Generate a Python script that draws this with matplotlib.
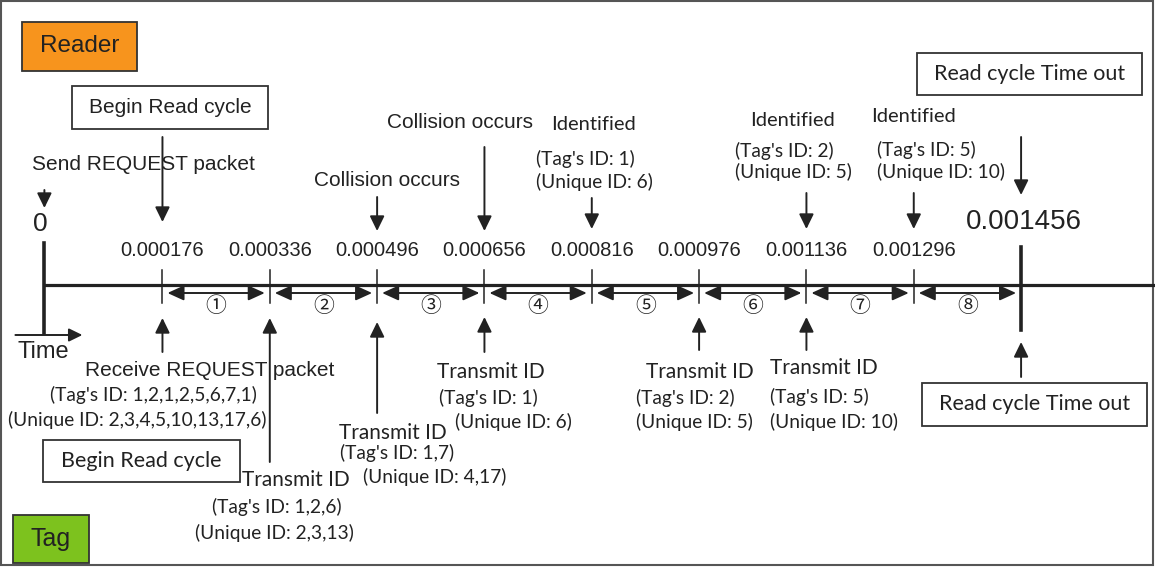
import matplotlib
matplotlib.use('Agg')
import matplotlib.pyplot as plt
from matplotlib.patches import Rectangle

# slot boundaries of one read cycle (seconds)
times = [0, 0.000176, 0.000336, 0.000496, 0.000656, 0.000816,
         0.000976, 0.001136, 0.001296, 0.001456]
time_labels = ['0', '0.000176', '0.000336', '0.000496', '0.000656',
               '0.000816', '0.000976', '0.001136', '0.001296', '0.001456']
slot_labels = ['①', '②', '③', '④', '⑤', '⑥', '⑦', '⑧']

# reader side events (index into times)
collision_idx = [3, 4]
ident_idx = [5, 7, 8]
ident_tags = ['1', '2', '5']
ident_unique = ['6', '5', '10']

# tag side events
request_tags = '1,2,1,2,5,6,7,1'
request_unique = '2,3,4,5,10,13,17,6'
transmit_idx = [2, 3, 4, 6, 7]
transmit_tags = ['1,2,6', '1,7', '1', '2', '5']
transmit_unique = ['2,3,13', '4,17', '6', '5', '10']

ARIAL = 'Liberation Sans'
CALIBRI = 'Lato'
INK = '#222222'

# pixel layout: time axis is linear, y axis is in pixels (top = 0)
W, H = 1155, 567
X0 = 44.4             # pixel of t = 0
PX_PER_S = 0.6708e6   # pixels per second


def tx(px):
    return (px - X0) / PX_PER_S


def at(t, dx=0):
    return t + dx / PX_PER_S


fig = plt.figure(figsize=(W / 100, H / 100), dpi=100)
ax = fig.add_axes([0, 0, 1, 1])
ax.set_xlim(tx(0), tx(W))
ax.set_ylim(H, 0)
ax.axis('off')


def label(x, y, s, size=15, font=ARIAL, ha='center'):
    ax.text(x, y, s, fontsize=size, family=font, ha=ha, va='center', color=INK)


def arrow(t, y_from, y_to):
    ax.annotate('', xy=(t, y_to), xytext=(t, y_from),
                arrowprops=dict(arrowstyle='-|>,head_length=0.45,head_width=0.22',
                                color=INK, lw=1.4, mutation_scale=20,
                                shrinkA=0, shrinkB=0))


def box(xc, yc, w, h, s, size=15, font=ARIAL, face='white'):
    ax.add_patch(Rectangle((xc - w / 2 / PX_PER_S, yc - h / 2), w / PX_PER_S, h,
                           facecolor=face, edgecolor='#333333', lw=1.3))
    label(xc, yc, s, size=size, font=font)


# frame and the two role boxes
ax.add_patch(Rectangle((tx(1), 1), (W - 3) / PX_PER_S, H - 3, fill=False,
                       edgecolor='#555555', lw=1.5))
box(tx(79.5), 46.5, 115, 49, 'Reader', size=17.5, face='#F7941D')
box(tx(51), 539, 76, 48, 'Tag', size=18, face='#7DC21E')

# time line
ax.plot([times[0], tx(W)], [285, 285], color=INK, lw=2.3, solid_capstyle='butt')
ax.plot([times[0], times[0]], [243, 333], color=INK, lw=2.6)
ax.plot([times[-1], times[-1]], [247, 330], color=INK, lw=2.6)
for t in times[1:-1]:
    ax.plot([t, t], [270, 303], color=INK, lw=1.1)
for i, s in enumerate(slot_labels):
    a, b = times[i + 1], times[i + 2]
    ax.annotate('', xy=(at(b, -5), 293), xytext=(at(a, 5), 293),
                arrowprops=dict(arrowstyle='<|-|>,head_length=0.55,head_width=0.25',
                                color=INK, lw=1.4, mutation_scale=18,
                                shrinkA=0, shrinkB=0))
    ax.text((a + b) / 2, 306, s, fontsize=15, ha='center', va='center',
            family=['Noto Sans CJK JP', 'DejaVu Sans'], color=INK)

# time stamps
label(at(times[0], -4), 224, time_labels[0], size=19)
for t, s in zip(times[1:-1], time_labels[1:-1]):
    label(t, 250, s, size=14.5)
label(at(times[-1], 3), 222, time_labels[-1], size=20)

# Time arrow
ax.annotate('', xy=(at(times[0], 38), 335), xytext=(at(times[0], -29), 335),
            arrowprops=dict(arrowstyle='-|>,head_length=0.45,head_width=0.22',
                            color=INK, lw=1.4, mutation_scale=18,
                            shrinkA=0, shrinkB=0))
label(at(times[0], -27), 352, 'Time', size=17, ha='left')

# ---- reader side (top) ----
label(at(times[0], -12), 165, 'Send REQUEST packet', ha='left')
arrow(times[0], 190, 208)

box(at(times[1], 8), 107.5, 196, 43, 'Begin Read cycle')
arrow(times[1], 137, 222)

coll_pos = [(10, 180, 197), (-24, 123, 147)]
for i, (dx, y, y0) in zip(collision_idx, coll_pos):
    label(at(times[i], dx), y, 'Collision occurs')
    arrow(times[i], y0, 231)

ident_pos = [(-41, -56, 125, 159, 182, 198),
             (-56, -71, 120, 151, 172, 193),
             (-43, -37, 117, 150, 172, 193)]
for i, tg, uq, (dx1, dx2, y1, y2, y3, y0) in zip(ident_idx, ident_tags,
                                                   ident_unique, ident_pos):
    t = times[i]
    label(at(t, dx1), y1, 'Identified', size=14.5, font=CALIBRI, ha='left')
    label(at(t, dx2), y2, "(Tag's ID: %s)" % tg, size=13.8, font=CALIBRI, ha='left')
    label(at(t, dx2), y3, '(Unique ID: %s)' % uq, size=13.8, font=CALIBRI, ha='left')
    arrow(t, y0, 229)

box(at(times[-1], 8), 74, 225, 42, 'Read cycle Time out', size=15.5, font=CALIBRI)
arrow(times[-1], 137, 195)

# ---- tag side (bottom) ----
arrow(times[1], 352, 318)
label(at(times[1], 47), 370, 'Receive REQUEST packet')
label(at(times[1], -9), 395, "(Tag's ID: %s)" % request_tags, size=13.8, font=CALIBRI)
label(at(times[1], -25), 420, '(Unique ID: %s)' % request_unique, size=13.8, font=CALIBRI)
box(at(times[1], -21), 461, 197, 42, 'Begin Read cycle', size=15.5, font=CALIBRI)

# (title dx, title ha, title y, id dx, id ha, tag y, unique dx, unique y, arrow tail, arrow tip)
tx_pos = [(-28, 'left', 480, 7, 'center', 507, 5, 533, 462, 318),
          (16, 'center', 433, -37, 'left', 453, -14, 477, 413, 322),
          (6, 'center', 372, 4, 'center', 398, 29, 422, 352, 317),
          (1, 'center', 372, -63, 'left', 398, -63, 422, 350, 317),
          (-36, 'left', 368, -36, 'left', 397, -36, 422, 350, 317)]
for i, tg, uq, p in zip(transmit_idx, transmit_tags, transmit_unique, tx_pos):
    dxt, hat, yt, dxi, hai, yi, dxu, yu, y0, y1 = p
    t = times[i]
    arrow(t, y0, y1)
    label(at(t, dxt), yt, 'Transmit ID', size=15, font=CALIBRI, ha=hat)
    label(at(t, dxi), yi, "(Tag's ID: %s)" % tg, size=13.8, font=CALIBRI, ha=hai)
    hau = 'left' if (hai == 'left' or i == 6) else 'center'
    label(at(t, dxu), yu, '(Unique ID: %s)' % uq, size=13.8, font=CALIBRI, ha=hau)

arrow(times[-1], 377, 342)
box(at(times[-1], 13), 404.5, 225, 43, 'Read cycle Time out', size=15.5, font=CALIBRI)

fig.savefig('out.png', dpi=100)
